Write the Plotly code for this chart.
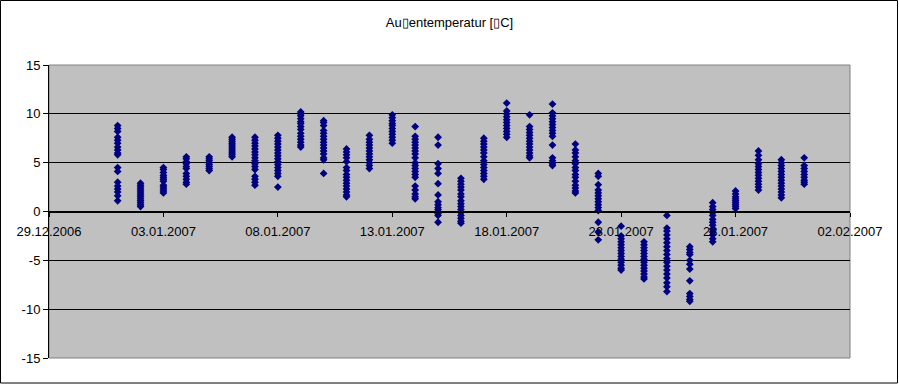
import plotly.graph_objects as go

# Days (January 2007) and temperature readings per day
days = [f"2007-01-{d:02d}" for d in range(1, 32)]

jan01 = [8.8, 8.5, 8.2, 7.6, 7.3, 7.0, 6.6, 6.3, 6.0, 5.8, 4.5, 4.1, 3.0, 2.6, 2.3, 2.0, 1.6, 1.1]
jan02 = [2.9, 2.7, 2.5, 2.3, 2.1, 1.9, 1.7, 1.5, 1.3, 1.1, 0.9, 0.7, 0.5]
jan03 = [4.5, 4.3, 4.0, 3.7, 3.5, 3.3, 3.1, 2.7, 2.5, 2.3, 2.1, 1.9]
jan04 = [5.6, 5.4, 5.1, 4.9, 4.6, 4.4, 3.9, 3.6, 3.3, 3.0, 2.8]
jan05 = [5.6, 5.4, 5.2, 5.0, 4.8, 4.6, 4.4, 4.2]
jan06 = [7.6, 7.4, 7.2, 7.0, 6.8, 6.6, 6.4, 6.2, 6.0, 5.8, 5.6]
jan07 = [7.6, 7.3, 7.0, 6.7, 6.4, 6.1, 5.8, 5.5, 5.2, 4.9, 4.6, 4.3, 3.6, 3.3, 3.0, 2.7]
jan08 = [7.8, 7.5, 7.2, 6.9, 6.6, 6.3, 6.0, 5.7, 5.4, 5.1, 4.8, 4.5, 4.2, 3.9, 3.6, 2.5]
jan09 = [10.2, 10.0, 9.8, 9.5, 9.2, 9.0, 8.7, 8.4, 8.0, 7.7, 7.4, 7.1, 6.8, 6.6]
jan10 = [9.3, 9.1, 8.8, 8.3, 8.0, 7.7, 7.4, 7.1, 6.8, 6.5, 6.2, 5.9, 5.5, 5.3, 3.9]
jan11 = [6.4, 6.1, 5.8, 5.5, 5.1, 4.5, 4.2, 3.8, 3.5, 3.2, 2.9, 2.6, 2.3, 2.0, 1.7, 1.5]
jan12 = [7.8, 7.4, 7.1, 6.8, 6.5, 6.2, 5.9, 5.6, 5.3, 5.0, 4.7, 4.4]
jan13 = [9.9, 9.6, 9.3, 9.0, 8.8, 8.5, 8.2, 7.9, 7.6, 7.3, 7.0]
jan14 = [8.7, 7.7, 7.4, 7.1, 6.8, 6.5, 6.2, 5.9, 5.5, 5.0, 4.7, 4.4, 4.1, 3.8, 3.5, 2.6, 2.2, 1.8, 1.5, 1.3]
jan15 = [7.6, 6.8, 4.9, 4.4, 3.9, 2.85, 1.7, 1.0, 0.7, 0.4, 0.2, 0.0, -0.2, -0.4, -1.1]
jan16 = [3.4, 3.1, 2.8, 2.5, 2.2, 1.8, 1.5, 1.1, 0.8, 0.5, 0.2, -0.1, -0.4, -0.7, -1.0, -1.2]
jan17 = [7.5, 7.2, 6.9, 6.6, 6.3, 6.0, 5.6, 5.2, 4.8, 4.5, 4.2, 3.9, 3.6, 3.3]
jan18 = [11.1, 10.3, 10.0, 9.7, 9.4, 9.1, 8.8, 8.5, 8.2, 7.9, 7.6]
jan19 = [9.9, 8.7, 8.4, 8.1, 7.8, 7.5, 7.2, 6.9, 6.6, 6.3, 6.0, 5.7, 5.5]
jan20 = [11.0, 10.1, 9.8, 9.5, 9.2, 8.9, 8.6, 8.3, 8.0, 7.7, 6.8, 5.5, 5.2, 4.9, 4.7]
jan21 = [6.9, 6.3, 6.0, 5.6, 5.2, 4.9, 4.5, 4.2, 3.8, 3.5, 3.1, 2.7, 2.4, 2.1, 1.9]
jan22 = [3.9, 3.6, 2.75, 2.2, 1.9, 1.6, 1.3, 1.0, 0.7, 0.4, 0.1, -1.1, -2.1, -2.9]
jan23 = [-1.5, -2.5, -2.8, -3.1, -3.4, -3.7, -4.0, -4.3, -4.6, -4.9, -5.2, -5.5, -5.8, -6.0]
jan24 = [-3.1, -3.4, -3.7, -4.0, -4.3, -4.6, -4.9, -5.2, -5.5, -5.8, -6.1, -6.4, -6.7, -6.9]
jan25 = [-0.4, -1.7, -2.0, -2.4, -2.8, -3.2, -3.6, -4.0, -4.4, -4.8, -5.2, -5.6, -6.0, -6.4, -6.8, -7.3, -7.7, -8.2]
jan26 = [-3.6, -3.9, -4.2, -4.4, -5.0, -5.4, -5.9, -7.1, -8.4, -8.7, -9.0, -9.2]
jan27 = [0.9, 0.5, 0.2, -0.1, -0.4, -0.8, -1.1, -1.4, -1.8, -2.1, -2.4, -2.8, -3.1]
jan28 = [2.1, 1.8, 1.5, 1.3, 1.1, 0.9, 0.7, 0.5, 0.3]
jan29 = [6.2, 5.75, 5.3, 4.9, 4.6, 4.3, 4.0, 3.7, 3.4, 3.1, 2.8, 2.5, 2.2]
jan30 = [5.3, 5.0, 4.7, 4.4, 4.1, 3.8, 3.5, 3.2, 2.9, 2.6, 2.3, 2.0, 1.7, 1.4]
jan31 = [5.5, 4.7, 4.4, 4.1, 3.8, 3.5, 3.2, 3.0, 2.8]

per_day = [jan01, jan02, jan03, jan04, jan05, jan06, jan07, jan08, jan09, jan10,
           jan11, jan12, jan13, jan14, jan15, jan16, jan17, jan18, jan19, jan20,
           jan21, jan22, jan23, jan24, jan25, jan26, jan27, jan28, jan29, jan30, jan31]

y_ticks = [-15, -10, -5, 0, 5, 10, 15]
y_tick_labels = ["-15", "-10", "-5", "0", "5", "10", "15"]
grid_vals = [-10, -5, 0, 5, 10]

title_text = "Au\u25afentemperatur [\u25afC]"

xs, ys = [], []
for d, vals in zip(days, per_day):
    for v in vals:
        xs.append(d)
        ys.append(v)

FONT = "Liberation Sans, Arial, sans-serif"

fig = go.Figure()
fig.add_trace(go.Scatter(
    x=xs, y=ys, mode="markers",
    marker=dict(symbol="diamond", size=6, color="#000080", line=dict(width=0)),
    showlegend=False,
))
# invisible helper trace so the gridline axis is rendered
fig.add_trace(go.Scatter(x=[], y=[], yaxis="y2", showlegend=False))

fig.update_layout(
    width=899, height=384,
    margin=dict(l=49, r=49, t=65, b=26),
    paper_bgcolor="white",
    plot_bgcolor="#C0C0C0",
    font=dict(family=FONT, size=13, color="black"),
    title=dict(text=title_text, x=0.5, xref="container", xanchor="center",
               y=1 - 22 / 384, yref="container", yanchor="middle",
               font=dict(family=FONT, size=13, color="black")),
    xaxis=dict(
        type="date",
        range=["2006-12-29", "2007-02-02"],
        tick0="2006-12-29", dtick=5 * 86400000,
        tickformat="%d.%m.%Y",
        showgrid=False, zeroline=False,
        showline=True, linecolor="black", linewidth=1,
        anchor="free", position=0.5,
        ticks="outside", ticklen=4, tickcolor="black", tickwidth=1,
        ticklabelstandoff=4,
        tickfont=dict(family=FONT, size=13, color="black"),
    ),
    yaxis=dict(
        range=[-15, 15],
        tickvals=y_ticks, ticktext=y_tick_labels,
        showgrid=False, zeroline=False,
        showline=True, linecolor="black", linewidth=1,
        ticks="outside", ticklen=5, tickcolor="black", tickwidth=1,
        tickfont=dict(family=FONT, size=13, color="black"),
    ),
    yaxis2=dict(
        range=[-15, 15], overlaying="y",
        tickvals=grid_vals, showticklabels=False, ticks="",
        showgrid=True, gridcolor="black", gridwidth=1,
        zeroline=False, showline=False,
    ),
    shapes=[
        dict(type="rect", xref="paper", yref="paper", x0=0, x1=1, y0=0, y1=1,
             line=dict(color="#808080", width=1), fillcolor="rgba(0,0,0,0)", layer="below"),
        dict(type="rect", xref="paper", yref="paper",
             x0=-48.5 / 801, x1=1 + 47.5 / 801, y0=-25 / 293, y1=1 + 64.5 / 293,
             line=dict(color="black", width=1), fillcolor="rgba(0,0,0,0)", layer="above"),
    ],
)

fig.write_html("out.html",
               config={"displayModeBar": False},
               post_script="document.body.style.margin='0';document.body.style.overflow='hidden';")
